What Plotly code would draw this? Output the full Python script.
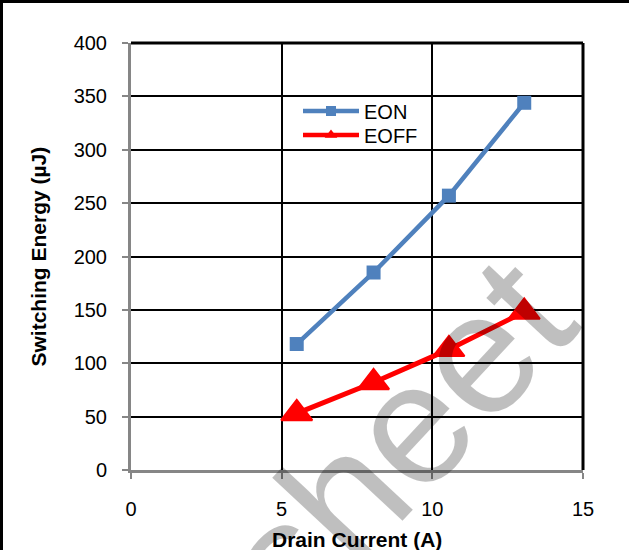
import plotly.graph_objects as go

# Switching energy vs. drain current
drain_current = [5.5, 8.05, 10.55, 13.05]
eon = [118, 185, 257, 344]
eoff = [53, 82, 113, 148]

x_ticks = [0, 5, 10, 15]
y_ticks = [0, 50, 100, 150, 200, 250, 300, 350, 400]

BLUE = "#4F81BD"
RED = "#FF0000"
AXIS_GRAY = "#868686"
FONT = "Liberation Sans, Arial, sans-serif"

W, H = 629, 550
ML, MR, MT, MB = 131, 46, 43, 80
PW, PH = W - ML - MR, H - MT - MB


def px_x(px):
    return (px - ML) / PW


def px_y(py):
    return (H - MB - py) / PH


fig = go.Figure()

fig.add_trace(go.Scatter(
    x=drain_current, y=eon, mode="lines+markers", showlegend=False,
    line=dict(color=BLUE, width=4.5),
    marker=dict(symbol="square", size=14, color=BLUE),
))
fig.add_trace(go.Scatter(
    x=drain_current, y=eoff, mode="lines+markers", showlegend=False,
    line=dict(color=RED, width=5),
    marker=dict(symbol="triangle-up", size=27, color=RED,
                line=dict(color=RED, width=2)),
))

# legend entries with compact symbols, one legend box each
fig.add_trace(go.Scatter(
    x=[None], y=[None], mode="lines+markers", name="EON", legend="legend",
    line=dict(color=BLUE, width=4.5),
    marker=dict(symbol="square", size=10, color=BLUE),
))
fig.add_trace(go.Scatter(
    x=[None], y=[None], mode="lines+markers", name="EOFF", legend="legend2",
    line=dict(color=RED, width=4.5),
    marker=dict(symbol="triangle-up", size=11, color=RED),
))

shapes = [
    # plot-area frame: top and right edges
    dict(type="line", xref="paper", yref="paper", x0=0, x1=1, y0=1, y1=1,
         line=dict(color="black", width=3), layer="between"),
    dict(type="line", xref="paper", yref="paper", x0=1, x1=1, y0=0, y1=1,
         line=dict(color="black", width=3), layer="between"),
    # outer page frame: top and left edges
    dict(type="line", xref="paper", yref="paper",
         x0=px_x(0), x1=px_x(W), y0=px_y(1.5), y1=px_y(1.5),
         line=dict(color="black", width=3)),
    dict(type="line", xref="paper", yref="paper",
         x0=px_x(1.5), x1=px_x(1.5), y0=px_y(0), y1=px_y(H),
         line=dict(color="black", width=3)),
]

legend_common = dict(xanchor="left", yanchor="middle",
                     bgcolor="rgba(0,0,0,0)", font=dict(size=20),
                     itemwidth=56)

fig.update_layout(
    width=W, height=H,
    margin=dict(l=ML, r=MR, t=MT, b=MB),
    paper_bgcolor="white", plot_bgcolor="white",
    font=dict(family=FONT, size=20, color="black"),
    shapes=shapes,
    legend=dict(x=px_x(298), y=px_y(111), **legend_common),
    legend2=dict(x=px_x(298), y=px_y(135), **legend_common),
    annotations=[
        dict(text="sheet", xref="paper", yref="paper",
             x=px_x(396), y=px_y(440), xanchor="center", yanchor="middle",
             showarrow=False, textangle=-47,
             font=dict(family=FONT, size=172, color="rgba(0,0,0,0.25)")),
        dict(text="<b>Drain Current (A)</b>", xref="paper", yref="paper",
             x=0.5, y=px_y(539), xanchor="center", yanchor="middle",
             showarrow=False, font=dict(size=21)),
        dict(text="<b>Switching Energy (µJ)</b>", xref="paper", yref="paper",
             x=px_x(38), y=0.5, xanchor="center", yanchor="middle",
             showarrow=False, textangle=-90, font=dict(size=21)),
    ],
)

fig.update_xaxes(
    range=[0, 15], tickvals=x_ticks, ticktext=[str(v) for v in x_ticks],
    showgrid=True, gridcolor="black", gridwidth=1.5, zeroline=False,
    showline=True, linecolor=AXIS_GRAY, linewidth=3,
    ticks="outside", ticklen=6, tickwidth=2, tickcolor=AXIS_GRAY,
    ticklabelstandoff=13, automargin=False,
)
fig.update_yaxes(
    range=[0, 400], tickvals=y_ticks, ticktext=[str(v) for v in y_ticks],
    showgrid=True, gridcolor="black", gridwidth=1.5, zeroline=False,
    showline=True, linecolor=AXIS_GRAY, linewidth=3,
    ticks="outside", ticklen=6, tickwidth=2, tickcolor=AXIS_GRAY,
    ticklabelstandoff=11, automargin=False,
)

fig.write_html("out.html")
